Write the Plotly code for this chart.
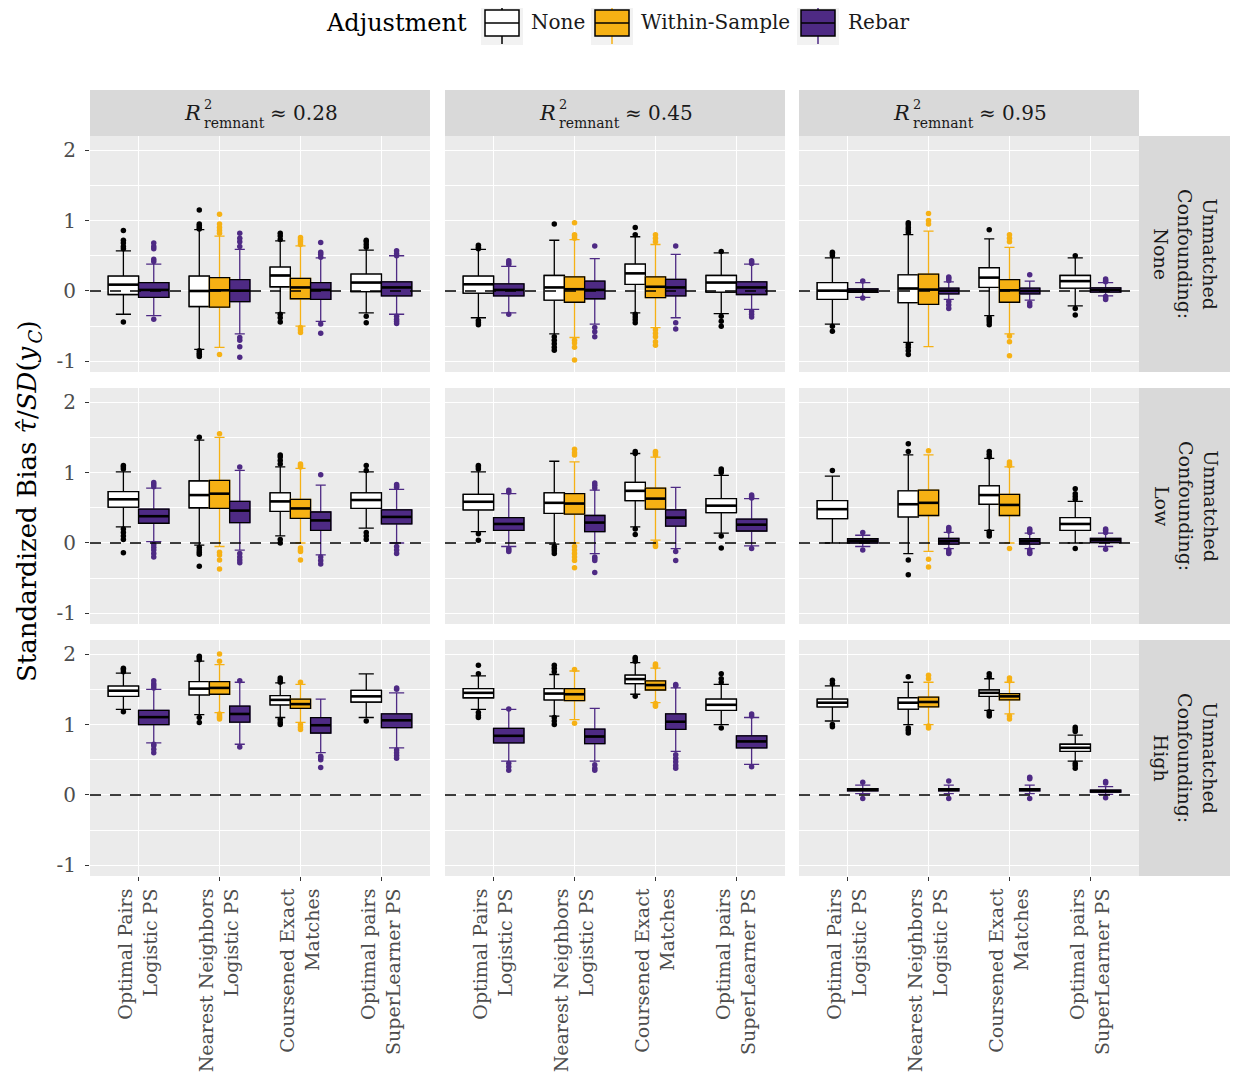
import plotly.graph_objects as go
from plotly.subplots import make_subplots

# page body has an 8px margin: build the figure in reference pixel coordinates minus that offset
OFF = 8
FW, FH = 1238 - OFF, 1076 - OFF
FONT = "DejaVu Serif"


def px(x):
    return (x - OFF) / FW


def py(y):
    return 1 - (y - OFF) / FH


CATEGORIES = ["Optimal Pairs<br>Logistic PS", "Nearest Neighbors<br>Logistic PS",
              "Coursened Exact<br>Matches", "Optimal pairs<br>SuperLearner PS"]
ADJUSTMENTS = ["None", "Within-Sample", "Rebar"]
R2_LABELS = ["0.28", "0.45", "0.95"]
CONFOUNDING = ["None", "Low", "High"]
Y_TICKS = [-1, 0, 1, 2]
Y_TICK_TEXT = ["-1", "0", "1", "2"]

# Panel order (row-major): confounding None/Low/High  x  R2 0.28/0.45/0.95
# Each inner list: the four matching methods in CATEGORIES order.
NONE_LO = [[-0.33, -0.83, -0.31, -0.31], [-0.38, -0.61, -0.31, -0.32], [-0.47, -0.73, -0.35, -0.21],
           [0.23, -0.03, 0.10, 0.21], [0.16, -0.015, 0.23, 0.14], [0.0, -0.15, 0.18, 0.0],
           [1.215, 1.14, 1.10, 1.10], [1.215, 1.12, 1.43, 1.0], [1.05, 1.0, 1.2, 0.48]]
NONE_Q1 = [[-0.05, -0.22, 0.06, -0.01], [-0.03, -0.13, 0.095, -0.015], [-0.12, -0.165, 0.05, 0.04],
           [0.51, 0.50, 0.45, 0.49], [0.47, 0.42, 0.60, 0.43], [0.345, 0.37, 0.55, 0.18],
           [1.40, 1.42, 1.28, 1.32], [1.38, 1.35, 1.58, 1.20], [1.25, 1.22, 1.40, 0.62]]
NONE_MED = [[0.09, 0.0, 0.22, 0.12], [0.095, 0.05, 0.25, 0.12], [0.005, 0.035, 0.19, 0.14],
            [0.62, 0.68, 0.59, 0.61], [0.585, 0.57, 0.74, 0.53], [0.48, 0.55, 0.68, 0.27],
            [1.48, 1.51, 1.35, 1.40], [1.45, 1.44, 1.645, 1.28], [1.31, 1.31, 1.45, 0.67]]
NONE_Q3 = [[0.21, 0.21, 0.34, 0.24], [0.21, 0.22, 0.38, 0.22], [0.12, 0.23, 0.33, 0.22],
           [0.73, 0.88, 0.71, 0.71], [0.69, 0.71, 0.86, 0.63], [0.60, 0.74, 0.81, 0.36],
           [1.546, 1.61, 1.41, 1.485], [1.51, 1.51, 1.70, 1.36], [1.36, 1.38, 1.49, 0.72]]
NONE_HI = [[0.57, 0.87, 0.71, 0.58], [0.59, 0.72, 0.77, 0.54], [0.47, 0.80, 0.74, 0.47],
           [1.01, 1.46, 1.08, 1.01], [1.01, 1.16, 1.27, 0.96], [0.95, 1.25, 1.20, 0.59],
           [1.73, 1.90, 1.59, 1.72], [1.69, 1.71, 1.88, 1.57], [1.55, 1.6, 1.65, 0.85]]
NONE_OUT = [
    [[0.6, 0.63, 0.68, 0.72, 0.86, -0.44], [0.88, 0.9, 0.93, 0.95, 1.15, -0.85, -0.88, -0.9, -0.93],
     [0.73, 0.78, 0.82, -0.33, -0.38, -0.44], [0.62, 0.66, 0.7, 0.72, -0.36, -0.45]],
    [[0.6, 0.62, 0.65, -0.42, -0.45, -0.48], [0.95, -0.65, -0.7, -0.75, -0.8, -0.84],
     [0.8, 0.9, -0.33, -0.37, -0.41, -0.45], [0.56, -0.36, -0.43, -0.5]],
    [[0.5, 0.53, 0.55, -0.5, -0.57], [0.83, 0.87, 0.9, 0.94, 0.97, -0.76, -0.8, -0.85, -0.9],
     [0.87, -0.38, -0.41, -0.44, -0.48], [0.5, -0.25, -0.34]],
    [[1.05, 1.08, 1.1, 0.2, 0.15, 0.1, 0.05, -0.14], [1.5, -0.06, -0.1, -0.13, -0.16, -0.33],
     [1.12, 1.17, 1.22, 1.25, 0.05, 0.0], [1.03, 1.1, 0.15, 0.1, 0.05]],
    [[1.05, 1.08, 1.1, 0.13, 0.04], [-0.05, -0.08, -0.11, -0.15],
     [1.27, 1.3, 0.2, 0.12], [1.0, 1.03, 1.05, 0.1, -0.07]],
    [[1.03], [1.3, 1.41, -0.24, -0.45], [1.22, 1.26, 1.3, 0.1, 0.13, 0.16], [0.62, 0.66, 0.7, 0.77, -0.08]],
    [[1.75, 1.78, 1.8, 1.18], [1.92, 1.95, 1.97, 1.1, 1.03], [1.6, 1.63, 1.66, 1.0, 1.03, 1.07], [1.05]],
    [[1.72, 1.84, 1.1, 1.13, 1.17], [1.75, 1.8, 1.84, 1.0, 1.05, 1.1], [1.9, 1.93, 1.95, 1.4], [1.6, 1.65, 1.72, 0.95]],
    [[1.58, 1.63, 0.97, 1.0], [1.68, 0.88, 0.92, 0.95], [1.68, 1.72, 1.12, 1.15, 1.18], [0.9, 0.93, 0.96, 0.38, 0.42, 0.45]],
]

WS_LO = [[None, -0.8, -0.5, None], [None, -0.66, -0.52, None], [None, -0.79, -0.61, None],
         [None, -0.05, 0.0, None], [None, 0.0, 0.04, None], [None, -0.12, 0.0, None],
         [None, 1.17, 1.03, None], [None, 1.07, 1.31, None], [None, 1.0, 1.15, None]]
WS_Q1 = [[None, -0.23, -0.11, None], [None, -0.16, -0.095, None], [None, -0.19, -0.16, None],
         [None, 0.49, 0.35, None], [None, 0.41, 0.48, None], [None, 0.39, 0.39, None],
         [None, 1.43, 1.23, None], [None, 1.34, 1.49, None], [None, 1.25, 1.35, None]]
WS_MED = [[None, 0.01, 0.05, None], [None, 0.025, 0.06, None], [None, 0.02, 0.01, None],
          [None, 0.70, 0.49, None], [None, 0.56, 0.63, None], [None, 0.57, 0.54, None],
          [None, 1.52, 1.29, None], [None, 1.43, 1.56, None], [None, 1.32, 1.40, None]]
WS_Q3 = [[None, 0.19, 0.18, None], [None, 0.20, 0.20, None], [None, 0.24, 0.16, None],
         [None, 0.89, 0.62, None], [None, 0.70, 0.78, None], [None, 0.75, 0.69, None],
         [None, 1.61, 1.36, None], [None, 1.51, 1.62, None], [None, 1.39, 1.44, None]]
WS_HI = [[None, 0.78, 0.64, None], [None, 0.73, 0.66, None], [None, 0.85, 0.62, None],
         [None, 1.5, 1.06, None], [None, 1.15, 1.22, None], [None, 1.25, 1.08, None],
         [None, 1.85, 1.57, None], [None, 1.76, 1.8, None], [None, 1.6, 1.6, None]]
WS_OUT = [
    [[], [0.82, 0.86, 0.9, 0.95, 1.09, -0.9], [0.66, 0.7, 0.73, 0.76, -0.52, -0.55, -0.59], []],
    [[], [0.75, 0.78, 0.8, 0.97, -0.7, -0.74, -0.8, -0.98], [0.7, 0.75, 0.8, -0.55, -0.6, -0.65, -0.72, -0.77], []],
    [[], [0.95, 1.0, 1.1], [0.7, 0.75, 0.8, -0.64, -0.72, -0.92], []],
    [[], [1.55, -0.13, -0.17, -0.24, -0.37], [1.08, 1.1, 1.12, -0.07, -0.1, -0.12, -0.24], []],
    [[], [1.25, 1.28, 1.33, -0.05, -0.1, -0.15, -0.2, -0.25, -0.35], [1.25, 1.28, 1.3, 0.0, -0.03, -0.05], []],
    [[], [1.31, -0.23, -0.34], [1.1, 1.12, 1.15, -0.08], []],
    [[], [1.9, 2.0, 1.08, 1.1, 1.12, 1.15], [1.6, 0.93, 0.96, 1.0], []],
    [[], [1.78, 1.02], [1.82, 1.84, 1.86, 1.26, 1.28, 1.3], []],
    [[], [1.65, 1.7, 0.95, 0.98], [1.62, 1.66, 1.08, 1.12], []],
]

REBAR_LO = [[-0.35, -0.61, -0.43, -0.33], [-0.31, -0.47, -0.38, -0.26], [-0.09, -0.12, -0.13, -0.07],
            [0.02, -0.1, -0.17, 0.0], [-0.05, -0.15, -0.08, -0.04], [-0.05, -0.08, -0.08, -0.05],
            [0.74, 0.72, 0.6, 0.67], [0.48, 0.48, 0.62, 0.435], [0.02, 0.02, 0.02, 0.01]]
REBAR_Q1 = [[-0.09, -0.15, -0.12, -0.07], [-0.07, -0.11, -0.07, -0.05], [-0.02, -0.04, -0.04, -0.015],
            [0.28, 0.29, 0.18, 0.27], [0.18, 0.16, 0.24, 0.17], [0.0, -0.015, -0.015, 0.005],
            [1.0, 1.035, 0.88, 0.955], [0.74, 0.73, 0.93, 0.67], [0.06, 0.06, 0.06, 0.04]]
REBAR_MED = [[0.015, 0.005, 0.015, 0.05], [0.015, 0.015, 0.05, 0.05], [0.005, 0.005, 0.0, 0.015],
             [0.38, 0.46, 0.32, 0.37], [0.27, 0.29, 0.36, 0.26], [0.03, 0.03, 0.03, 0.04],
             [1.105, 1.15, 0.99, 1.06], [0.84, 0.83, 1.04, 0.76], [0.075, 0.075, 0.075, 0.055]]
REBAR_Q3 = [[0.12, 0.16, 0.12, 0.13], [0.10, 0.14, 0.165, 0.13], [0.03, 0.04, 0.04, 0.045],
            [0.48, 0.59, 0.44, 0.47], [0.36, 0.39, 0.47, 0.34], [0.06, 0.066, 0.06, 0.066],
            [1.2, 1.26, 1.097, 1.15], [0.945, 0.936, 1.15, 0.84], [0.09, 0.09, 0.09, 0.07]]
REBAR_HI = [[0.38, 0.59, 0.47, 0.5], [0.35, 0.46, 0.52, 0.38], [0.12, 0.13, 0.14, 0.12],
            [0.78, 1.03, 0.82, 0.76], [0.7, 0.75, 0.79, 0.63], [0.11, 0.15, 0.14, 0.14],
            [1.5, 1.6, 1.36, 1.45], [1.215, 1.23, 1.52, 1.1], [0.14, 0.14, 0.14, 0.12]]
REBAR_OUT = [
    [[0.42, 0.45, 0.6, 0.63, 0.68, -0.4], [0.63, 0.7, 0.75, 0.82, -0.66, -0.7, -0.79, -0.94],
     [0.48, 0.52, 0.55, 0.69, -0.47, -0.6], [0.5, 0.53, 0.57, -0.36, -0.4, -0.43, -0.46]],
    [[0.38, 0.4, 0.43, -0.33], [0.64, -0.52, -0.58, -0.65], [0.64, -0.45, -0.54], [0.39, 0.41, 0.43, -0.29, -0.33, -0.37]],
    [[0.14, -0.1], [0.15, 0.18, 0.2, -0.15, -0.2, -0.25], [0.23, -0.17, -0.21], [0.13, 0.15, 0.17, -0.08, -0.1, -0.12]],
    [[0.8, 0.83, 0.86, -0.02, -0.06, -0.1, -0.15, -0.2], [1.08, -0.15, -0.2, -0.24, -0.28],
     [0.97, -0.2, -0.25, -0.3], [0.79, 0.81, 0.83, -0.05, -0.1, -0.15]],
    [[0.72, 0.75, -0.08, -0.1, -0.12], [0.78, 0.82, 0.85, -0.2, -0.22, -0.25, -0.42], [-0.12, -0.25], [0.64, 0.66, 0.68, -0.08]],
    [[0.15, -0.1], [0.17, 0.2, 0.22, -0.1, -0.13, -0.15], [0.15, 0.18, 0.2, -0.1, -0.13, -0.15], [0.15, 0.18, 0.2, -0.09]],
    [[1.52, 1.55, 1.58, 1.62, 0.6, 0.65, 0.7, 0.72], [1.62, 0.68], [0.5, 0.53, 0.55, 0.39], [1.5, 1.52, 0.52, 0.56, 0.6, 0.64]],
    [[1.22, 0.35, 0.4, 0.45], [0.35, 0.38, 0.43], [1.55, 1.57, 0.38, 0.42, 0.47, 0.52, 0.57], [1.12, 1.15, 0.4]],
    [[0.18, -0.05], [0.2, -0.05], [0.23, 0.25, -0.05], [0.17, 0.19, -0.04]],
]

COLORS = {"None": "#FFFFFF", "Within-Sample": "#F6B114", "Rebar": "#4E2A84"}
WHISKER = {"None": "#000000", "Within-Sample": "#F6B114", "Rebar": "#4E2A84"}
STATS = {
    "None": (NONE_LO, NONE_Q1, NONE_MED, NONE_Q3, NONE_HI, NONE_OUT),
    "Within-Sample": (WS_LO, WS_Q1, WS_MED, WS_Q3, WS_HI, WS_OUT),
    "Rebar": (REBAR_LO, REBAR_Q1, REBAR_MED, REBAR_Q3, REBAR_HI, REBAR_OUT),
}

# layout in reference pixels
COL_PX = [(90, 430), (445, 785), (799, 1139)]
ROW_PX = [(136, 372), (388, 624), (640, 876)]
TEXT = "#1A1A1A"

fig = make_subplots(rows=3, cols=3)

for p in range(9):
    r, c = divmod(p, 3)
    row, col = r + 1, c + 1
    med_x, med_y = [], []
    for ci in range(4):
        present = [a for a in ADJUSTMENTS if STATS[a][2][p][ci] is not None]
        w = 0.75 / len(present)
        for k, a in enumerate(present):
            lo, q1, med, q3, hi = (STATS[a][i][p][ci] for i in range(5))
            outs = STATS[a][5][p][ci]
            pos = ci + 1 - 0.375 + w * (k + 0.5)
            # coloured whiskers
            fig.add_trace(go.Box(x=[pos], q1=[q1], median=[med], q3=[q3], lowerfence=[lo], upperfence=[hi],
                                 width=w, fillcolor=COLORS[a], line=dict(color=WHISKER[a], width=1.3),
                                 boxpoints=False, showlegend=False, hoverinfo="skip"), row=row, col=col)
            # black box outline on top
            fig.add_trace(go.Box(x=[pos], q1=[q1], median=[med], q3=[q3], lowerfence=[q1], upperfence=[q3],
                                 width=w, fillcolor=COLORS[a], line=dict(color="#000000", width=1.3),
                                 boxpoints=False, name=a, showlegend=False), row=row, col=col)
            med_x += [pos - w / 2, pos + w / 2, None]
            med_y += [med, med, None]
            if outs:
                fig.add_trace(go.Scatter(x=[pos] * len(outs), y=outs, mode="markers",
                                         marker=dict(color=WHISKER[a], size=5.5),
                                         showlegend=False, hoverinfo="skip"), row=row, col=col)
    fig.add_trace(go.Scatter(x=med_x, y=med_y, mode="lines", line=dict(color="#000000", width=2.6),
                             showlegend=False, hoverinfo="skip"), row=row, col=col)

    xa = "xaxis" if p == 0 else f"xaxis{p + 1}"
    ya = "yaxis" if p == 0 else f"yaxis{p + 1}"
    x0, x1 = COL_PX[c]
    y0, y1 = ROW_PX[r]
    fig.layout[xa].update(domain=[px(x0), px(x1)], range=[0.4, 4.6], tickvals=[1, 2, 3, 4],
                          ticktext=CATEGORIES, showgrid=True, gridcolor="white", gridwidth=1.2,
                          zeroline=False, showline=False,
                          showticklabels=(r == 2), ticks="outside" if r == 2 else "",
                          ticklen=4, tickcolor="#333333", tickangle=-90,
                          tickfont=dict(family=FONT, size=19, color="#4D4D4D"))
    fig.layout[ya].update(domain=[py(y1), py(y0)], range=[-1.15, 2.2], tickvals=Y_TICKS,
                          ticktext=Y_TICK_TEXT, showgrid=True, gridcolor="white", gridwidth=1.2,
                          zeroline=False, showline=False,
                          minor=dict(tickvals=[-0.5, 0.5, 1.5], showgrid=True, gridcolor="white", gridwidth=0.6),
                          showticklabels=(c == 0), ticks="outside" if c == 0 else "",
                          ticklen=4, tickcolor="#333333", ticklabelstandoff=5,
                          tickfont=dict(family=FONT, size=20, color="#4D4D4D"))
    fig.add_hline(y=0, line=dict(color="#000000", width=1.3, dash="11px,9px"), row=row, col=col)

shapes = []
annotations = []
# facet strips (top): R, stacked "2" over "remnant", then "≈ value"
for c in range(3):
    x0, x1 = COL_PX[c]
    shapes.append(dict(type="rect", x0=px(x0), x1=px(x1), y0=py(136), y1=py(90),
                       fillcolor="#D9D9D9", line=dict(width=0), layer="below"))
    cx = (x0 + x1) / 2
    annotations += [
        dict(text="<i>R</i>", x=px(cx - 58), y=py(113), xanchor="right", yanchor="middle", borderpad=0,
             font=dict(family=FONT, size=21, color=TEXT)),
        dict(text="2", x=px(cx - 57), y=py(104), xanchor="left", yanchor="middle", borderpad=0,
             font=dict(family=FONT, size=13, color=TEXT)),
        dict(text="remnant", x=px(cx - 57), y=py(123.5), xanchor="left", yanchor="middle", borderpad=0,
             font=dict(family=FONT, size=14, color=TEXT)),
        dict(text="\u2248 " + R2_LABELS[c], x=px(cx + 9), y=py(113), xanchor="left", yanchor="middle",
             borderpad=0, font=dict(family=FONT, size=20, color=TEXT)),
    ]
# facet strips (right)
for r in range(3):
    y0, y1 = ROW_PX[r]
    shapes.append(dict(type="rect", x0=px(1139), x1=px(1235), y0=py(y1), y1=py(y0),
                       fillcolor="#D9D9D9", line=dict(width=0), layer="below"))
    annotations.append(dict(text="Unmatched<br>Confounding:<br>" + CONFOUNDING[r], textangle=90,
                            x=px(1186), y=py((y0 + y1) / 2), xanchor="center", yanchor="middle",
                            font=dict(family=FONT, size=19, color=TEXT)))

# y-axis title (rotated), subscript C set as its own small text
YT_SPLIT = 345
annotations += [
    dict(text="Standardized Bias <i>\u03c4\u0302</i>/<i>SD</i>(<i>y</i>", textangle=-90,
         x=px(27), y=py(YT_SPLIT), xanchor="center", yanchor="top", borderpad=0,
         font=dict(family=FONT, size=26, color="#000000")),
    dict(text="<i>C</i>", textangle=-90, x=px(35), y=py(YT_SPLIT - 0.5), xanchor="center", yanchor="bottom",
         borderpad=0, font=dict(family=FONT, size=18, color="#000000")),
    dict(text=")", textangle=-90, x=px(27), y=py(YT_SPLIT - 13.5), xanchor="center", yanchor="bottom",
         borderpad=0, font=dict(family=FONT, size=26, color="#000000")),
]

# legend (ggplot style keys)
LEG_Y = 23
annotations.append(dict(text="Adjustment", x=px(469), y=py(LEG_Y), xanchor="right", yanchor="middle",
                        font=dict(family=FONT, size=24, color="#000000")))
KEY_X = {"None": 502, "Within-Sample": 612, "Rebar": 818}
LABEL_X = {"None": 529, "Within-Sample": 639, "Rebar": 846}
for a in ADJUSTMENTS:
    kx = KEY_X[a]
    shapes += [
        dict(type="rect", x0=px(kx - 21), x1=px(kx + 21), y0=py(45), y1=py(2),
             fillcolor="#F2F2F2", line=dict(width=0), layer="below"),
        dict(type="line", x0=px(kx), x1=px(kx), y0=py(44), y1=py(3), line=dict(color=WHISKER[a], width=1.5)),
        dict(type="rect", x0=px(kx - 17), x1=px(kx + 17), y0=py(36), y1=py(10),
             fillcolor=COLORS[a], line=dict(color="#000000", width=1.5)),
        dict(type="line", x0=px(kx - 17), x1=px(kx + 17), y0=py(23), y1=py(23),
             line=dict(color="#000000", width=1.5)),
    ]
    annotations.append(dict(text=a, x=px(LABEL_X[a]), y=py(LEG_Y - 1), xanchor="left", yanchor="middle",
                            font=dict(family=FONT, size=20, color=TEXT)))

for a in annotations:
    a.update(xref="paper", yref="paper", showarrow=False)
    fig.add_annotation(**a)
for s in shapes:
    s.update(xref="paper", yref="paper")
    fig.add_shape(**s)

fig.update_layout(
    width=FW, height=FH, autosize=False,
    margin=dict(l=0, r=0, t=0, b=0),
    paper_bgcolor="white", plot_bgcolor="#EBEBEB",
    boxmode="overlay", showlegend=False,
    font=dict(family=FONT, color=TEXT),
)

fig.write_html("out.html")
